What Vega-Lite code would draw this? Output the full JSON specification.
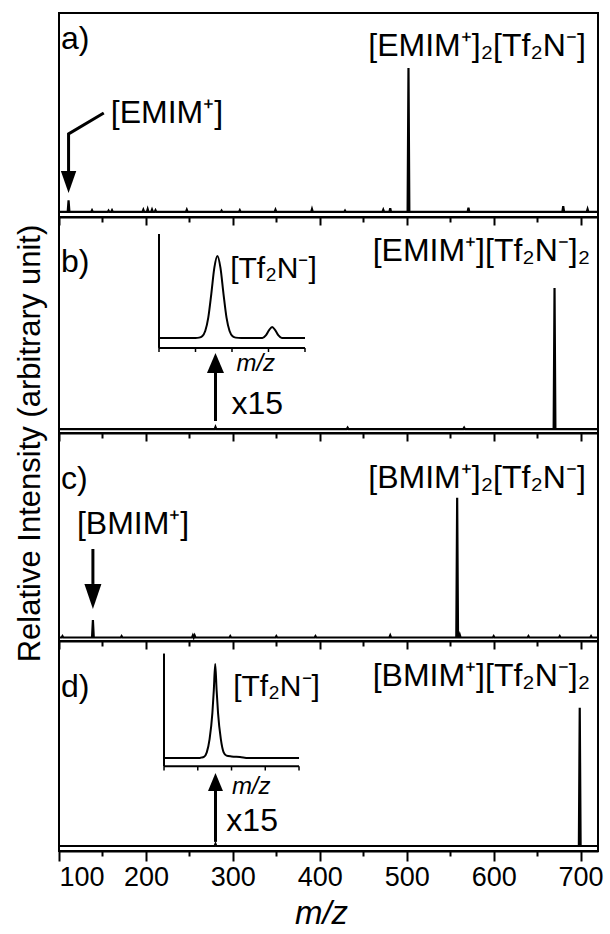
{
  "$schema": "https://vega.github.io/schema/vega-lite/v6.json",
  "padding": {"left": 12, "top": 12, "right": 5, "bottom": 0},
  "background": "white",
  "spacing": 0,
  "bounds": "flush",
  "config": {
    "font": "Liberation Sans",
    "view": {"stroke": "black", "strokeWidth": 2},
    "axis": {
      "grid": false,
      "domainColor": "black",
      "tickColor": "black",
      "labelColor": "black",
      "titleColor": "black",
      "labelFont": "Liberation Sans",
      "titleFont": "Liberation Sans",
      "domainWidth": 2,
      "tickWidth": 2
    },
    "text": {"font": "Liberation Sans", "fontSize": 32, "color": "black"},
    "line": {"color": "black"},
    "rule": {"color": "black"}
  },
  "vconcat": [
    {
      "width": 539,
      "height": 204,
      "resolve": {"scale": {"x": "independent", "y": "independent"}, "axis": {"x": "independent", "y": "independent"}},
      "layer": [
        {
          "data": {"values": [
            {"mz": 100, "i": 0}, {"mz": 110, "i": 0}, {"mz": 111, "i": 8}, {"mz": 112, "i": 0},
            {"mz": 137, "i": 0}, {"mz": 138, "i": 1.2}, {"mz": 139, "i": 0},
            {"mz": 156, "i": 0}, {"mz": 157, "i": 1}, {"mz": 158, "i": 0},
            {"mz": 160, "i": 0}, {"mz": 161, "i": 1.2}, {"mz": 162, "i": 0},
            {"mz": 196, "i": 0}, {"mz": 197, "i": 1.5}, {"mz": 198, "i": 0},
            {"mz": 201, "i": 0}, {"mz": 202, "i": 2}, {"mz": 203, "i": 0},
            {"mz": 206, "i": 0}, {"mz": 207, "i": 1.6}, {"mz": 208, "i": 0},
            {"mz": 210, "i": 0}, {"mz": 211, "i": 1.2}, {"mz": 212, "i": 0},
            {"mz": 246, "i": 0}, {"mz": 247, "i": 1.5}, {"mz": 248, "i": 0},
            {"mz": 286, "i": 0}, {"mz": 287, "i": 1}, {"mz": 288, "i": 0},
            {"mz": 307, "i": 0}, {"mz": 308, "i": 1.2}, {"mz": 309, "i": 0},
            {"mz": 348, "i": 0}, {"mz": 349, "i": 1.5}, {"mz": 350, "i": 0},
            {"mz": 390, "i": 0}, {"mz": 391, "i": 2}, {"mz": 392, "i": 0},
            {"mz": 428, "i": 0}, {"mz": 429, "i": 1}, {"mz": 430, "i": 0},
            {"mz": 472, "i": 0}, {"mz": 473, "i": 1.5}, {"mz": 474, "i": 0},
            {"mz": 480, "i": 0}, {"mz": 481, "i": 2.5}, {"mz": 482, "i": 0},
            {"mz": 501, "i": 0}, {"mz": 502, "i": 100}, {"mz": 503, "i": 0},
            {"mz": 570, "i": 0}, {"mz": 571, "i": 3}, {"mz": 572, "i": 0},
            {"mz": 679, "i": 0}, {"mz": 680, "i": 4}, {"mz": 681, "i": 0},
            {"mz": 707, "i": 0}, {"mz": 708, "i": 2}, {"mz": 709, "i": 0},
            {"mz": 720, "i": 0}
          ]},
          "mark": {"type": "line", "strokeWidth": 2.2},
          "encoding": {
            "x": {"field": "mz", "type": "quantitative", "scale": {"domain": [100, 720], "nice": false},
                  "axis": {"orient": "bottom", "values": [100, 200, 300, 400, 500, 600, 700], "labels": false, "tickSize": 8, "title": null}},
            "y": {"field": "i", "type": "quantitative", "scale": {"domain": [-3.5, 138.2], "nice": false}, "axis": null}
          }
        },
        {
          "data": {"values": [
            {"mz": 151.5, "i": 68.75, "o": 1}, {"mz": 111, "i": 54.2, "o": 2}, {"mz": 111, "i": 28.5, "o": 3}
          ]},
          "mark": {"type": "line", "strokeWidth": 3},
          "encoding": {
            "x": {"field": "mz", "type": "quantitative", "scale": {"domain": [100, 720], "nice": false},
                  "axis": {"orient": "bottom", "values": [150, 250, 350, 450, 550, 650], "labels": false, "tickSize": 5, "domain": false, "title": null}},
            "y": {"field": "i", "type": "quantitative", "scale": {"domain": [-3.5, 138.2], "nice": false}, "axis": null},
            "order": {"field": "o", "type": "quantitative"}
          }
        },
        {
          "data": {"values": [{"mz": 111, "i": 20.8}]},
          "mark": {"type": "point", "shape": "M-0.7,-1L0.7,-1L0,1Z", "size": 484, "filled": true, "color": "black", "opacity": 1, "strokeWidth": 0},
          "encoding": {
            "x": {"field": "mz", "type": "quantitative", "scale": {"domain": [100, 720], "nice": false}, "axis": null},
            "y": {"field": "i", "type": "quantitative", "scale": {"domain": [-3.5, 138.2], "nice": false}, "axis": null}
          }
        },
        {
          "data": {"values": [
            {"mz": 102.3, "i": 113.2, "t": "a)"},
            {"mz": 159.6, "i": 62, "t": "[EMIM⁺]"}
          ]},
          "mark": {"type": "text", "align": "left", "baseline": "alphabetic"},
          "encoding": {
            "x": {"field": "mz", "type": "quantitative", "scale": {"domain": [100, 720], "nice": false}, "axis": null},
            "y": {"field": "i", "type": "quantitative", "scale": {"domain": [-3.5, 138.2], "nice": false}, "axis": null},
            "text": {"field": "t"}
          }
        },
        {
          "data": {"values": [{"mz": 706, "i": 108.3, "t": "[EMIM⁺]₂[Tf₂N⁻]"}]},
          "mark": {"type": "text", "align": "right", "baseline": "alphabetic"},
          "encoding": {
            "x": {"field": "mz", "type": "quantitative", "scale": {"domain": [100, 720], "nice": false}, "axis": null},
            "y": {"field": "i", "type": "quantitative", "scale": {"domain": [-3.5, 138.2], "nice": false}, "axis": null},
            "text": {"field": "t"}
          }
        }
      ]
    },
    {
      "width": 539,
      "height": 216,
      "resolve": {"scale": {"x": "independent", "y": "independent"}, "axis": {"x": "independent", "y": "independent"}},
      "layer": [
        {
          "data": {"values": [
            {"mz": 100, "i": 0}, {"mz": 279, "i": 0}, {"mz": 280, "i": 1.5}, {"mz": 281, "i": 0},
            {"mz": 431, "i": 0}, {"mz": 432, "i": 1}, {"mz": 433, "i": 0},
            {"mz": 565, "i": 0}, {"mz": 566, "i": 1}, {"mz": 567, "i": 0},
            {"mz": 669, "i": 0}, {"mz": 670, "i": 100}, {"mz": 671, "i": 0},
            {"mz": 720, "i": 0}
          ]},
          "mark": {"type": "line", "strokeWidth": 2.2},
          "encoding": {
            "x": {"field": "mz", "type": "quantitative", "scale": {"domain": [100, 720], "nice": false},
                  "axis": {"orient": "bottom", "values": [100, 200, 300, 400, 500, 600, 700], "labels": false, "tickSize": 8, "title": null}},
            "y": {"field": "i", "type": "quantitative", "scale": {"domain": [-2.8, 150.4], "nice": false},
                  "axis": {"orient": "left", "title": "Relative Intensity (arbitrary unit)", "labels": false, "ticks": false, "domain": false,
                           "titleFontSize": 31, "titleFontWeight": "normal", "titleX": -20, "titleY": 226,
                           "titleAngle": -90, "titleAlign": "center", "titleBaseline": "alphabetic"}}
          }
        },
        {
          "data": {"values": [{"mz": 280, "i": 5.7, "i2": 40}]},
          "mark": {"type": "rule", "strokeWidth": 3},
          "encoding": {
            "x": {"field": "mz", "type": "quantitative", "scale": {"domain": [100, 720], "nice": false},
                  "axis": {"orient": "bottom", "values": [150, 250, 350, 450, 550, 650], "labels": false, "tickSize": 5, "domain": false, "title": null}},
            "y": {"field": "i", "type": "quantitative", "scale": {"domain": [-2.8, 150.4], "nice": false}, "axis": null},
            "y2": {"field": "i2"}
          }
        },
        {
          "data": {"values": [{"mz": 280, "i": 46.8}]},
          "mark": {"type": "point", "shape": "M0,-1L0.85,1L-0.85,1Z", "size": 400, "filled": true, "color": "black", "opacity": 1, "strokeWidth": 0},
          "encoding": {
            "x": {"field": "mz", "type": "quantitative", "scale": {"domain": [100, 720], "nice": false}, "axis": null},
            "y": {"field": "i", "type": "quantitative", "scale": {"domain": [-2.8, 150.4], "nice": false}, "axis": null}
          }
        },
        {
          "data": {"values": [
            {"mz": 102.3, "i": 111.3, "t": "b)"},
            {"mz": 298.3, "i": 10.6, "t": "x15"}
          ]},
          "mark": {"type": "text", "align": "left", "baseline": "alphabetic"},
          "encoding": {
            "x": {"field": "mz", "type": "quantitative", "scale": {"domain": [100, 720], "nice": false}, "axis": null},
            "y": {"field": "i", "type": "quantitative", "scale": {"domain": [-2.8, 150.4], "nice": false}, "axis": null},
            "text": {"field": "t"}
          }
        },
        {
          "data": {"values": [{"mz": 711, "i": 119, "t": "[EMIM⁺][Tf₂N⁻]₂"}]},
          "mark": {"type": "text", "align": "right", "baseline": "alphabetic"},
          "encoding": {
            "x": {"field": "mz", "type": "quantitative", "scale": {"domain": [100, 720], "nice": false}, "axis": null},
            "y": {"field": "i", "type": "quantitative", "scale": {"domain": [-2.8, 150.4], "nice": false}, "axis": null},
            "text": {"field": "t"}
          }
        },
        {
          "data": {"values": [
            {"mz": 270, "i": 0}, {"mz": 276, "i": 0}, {"mz": 276.6, "i": 0.4}, {"mz": 277.1, "i": 2.1},
            {"mz": 277.6, "i": 8.5}, {"mz": 278.1, "i": 24.9}, {"mz": 278.6, "i": 53.9}, {"mz": 279.1, "i": 85.7},
            {"mz": 279.6, "i": 100}, {"mz": 280.1, "i": 85.7}, {"mz": 280.6, "i": 53.9}, {"mz": 281.1, "i": 24.9},
            {"mz": 281.6, "i": 8.5}, {"mz": 282.1, "i": 2.1}, {"mz": 282.6, "i": 0.4}, {"mz": 283.5, "i": 0},
            {"mz": 287, "i": 0}, {"mz": 287.6, "i": 3.4}, {"mz": 288.1, "i": 9.5}, {"mz": 288.6, "i": 13.4},
            {"mz": 289.1, "i": 9.5}, {"mz": 289.6, "i": 3.4}, {"mz": 290.2, "i": 0}, {"mz": 294, "i": 0}
          ]},
          "mark": {"type": "line", "strokeWidth": 2, "interpolate": "monotone"},
          "encoding": {
            "x": {"field": "mz", "type": "quantitative", "scale": {"domain": [253.56, 342.17], "nice": false}, "axis": null},
            "y": {"field": "i", "type": "quantitative", "scale": {"domain": [-115.9, 147.5], "nice": false}, "axis": null}
          }
        },
        {
          "data": {"values": [
            {"mz": 270, "mz2": 294, "i": -12.2, "i2": -12.2},
            {"mz": 270, "mz2": 270, "i": -12.2, "i2": 126.8}
          ]},
          "mark": {"type": "rule", "strokeWidth": 2},
          "encoding": {
            "x": {"field": "mz", "type": "quantitative", "scale": {"domain": [253.56, 342.17], "nice": false}, "axis": null},
            "x2": {"field": "mz2"},
            "y": {"field": "i", "type": "quantitative", "scale": {"domain": [-115.9, 147.5], "nice": false}, "axis": null},
            "y2": {"field": "i2"}
          }
        },
        {
          "data": {"values": [
            {"mz": 270, "i": -12.2, "i2": -17.1}, {"mz": 276, "i": -12.2, "i2": -17.1},
            {"mz": 282, "i": -12.2, "i2": -17.1}, {"mz": 288, "i": -12.2, "i2": -17.1},
            {"mz": 294, "i": -12.2, "i2": -17.1}
          ]},
          "mark": {"type": "rule", "strokeWidth": 1.5},
          "encoding": {
            "x": {"field": "mz", "type": "quantitative", "scale": {"domain": [253.56, 342.17], "nice": false}, "axis": null},
            "y": {"field": "i", "type": "quantitative", "scale": {"domain": [-115.9, 147.5], "nice": false}, "axis": null},
            "y2": {"field": "i2"}
          }
        },
        {
          "data": {"values": [{"mz": 285.9, "i": -40.3, "t": "m/z"}]},
          "mark": {"type": "text", "align": "center", "baseline": "alphabetic", "fontSize": 24, "fontStyle": "italic"},
          "encoding": {
            "x": {"field": "mz", "type": "quantitative", "scale": {"domain": [253.56, 342.17], "nice": false}, "axis": null},
            "y": {"field": "i", "type": "quantitative", "scale": {"domain": [-115.9, 147.5], "nice": false}, "axis": null},
            "text": {"field": "t"}
          }
        },
        {
          "data": {"values": [{"mz": 281.7, "i": 73, "t": "[Tf₂N⁻]"}]},
          "mark": {"type": "text", "align": "left", "baseline": "alphabetic", "fontSize": 30},
          "encoding": {
            "x": {"field": "mz", "type": "quantitative", "scale": {"domain": [253.56, 342.17], "nice": false}, "axis": null},
            "y": {"field": "i", "type": "quantitative", "scale": {"domain": [-115.9, 147.5], "nice": false}, "axis": null},
            "text": {"field": "t"}
          }
        }
      ]
    },
    {
      "width": 539,
      "height": 208,
      "resolve": {"scale": {"x": "independent", "y": "independent"}, "axis": {"x": "independent", "y": "independent"}},
      "layer": [
        {
          "data": {"values": [
            {"mz": 100, "i": 0}, {"mz": 103, "i": 0}, {"mz": 104, "i": 1}, {"mz": 105, "i": 0},
            {"mz": 138, "i": 0}, {"mz": 139, "i": 12.5}, {"mz": 140, "i": 0},
            {"mz": 171, "i": 0}, {"mz": 172, "i": 1}, {"mz": 173, "i": 0},
            {"mz": 253, "i": 0}, {"mz": 254, "i": 1.5}, {"mz": 255, "i": 0}, {"mz": 256, "i": 1.5}, {"mz": 257, "i": 0},
            {"mz": 296, "i": 0}, {"mz": 297, "i": 1}, {"mz": 298, "i": 0},
            {"mz": 349, "i": 0}, {"mz": 350, "i": 1}, {"mz": 351, "i": 0},
            {"mz": 394, "i": 0}, {"mz": 395, "i": 1}, {"mz": 396, "i": 0},
            {"mz": 480, "i": 0}, {"mz": 481, "i": 1.5}, {"mz": 482, "i": 0},
            {"mz": 557, "i": 0}, {"mz": 558, "i": 100}, {"mz": 559, "i": 0},
            {"mz": 560, "i": 0}, {"mz": 561, "i": 2}, {"mz": 562, "i": 0},
            {"mz": 599, "i": 0}, {"mz": 600, "i": 1}, {"mz": 601, "i": 0},
            {"mz": 639, "i": 0}, {"mz": 640, "i": 1}, {"mz": 641, "i": 0},
            {"mz": 675, "i": 0}, {"mz": 676, "i": 1}, {"mz": 677, "i": 0},
            {"mz": 711, "i": 0}, {"mz": 712, "i": 1}, {"mz": 713, "i": 0},
            {"mz": 720, "i": 0}
          ]},
          "mark": {"type": "line", "strokeWidth": 2.2},
          "encoding": {
            "x": {"field": "mz", "type": "quantitative", "scale": {"domain": [100, 720], "nice": false},
                  "axis": {"orient": "bottom", "values": [100, 200, 300, 400, 500, 600, 700], "labels": false, "tickSize": 8, "title": null}},
            "y": {"field": "i", "type": "quantitative", "scale": {"domain": [-2.5, 146.3], "nice": false}, "axis": null}
          }
        },
        {
          "data": {"values": [{"mz": 139, "i": 38.3, "i2": 63.3}]},
          "mark": {"type": "rule", "strokeWidth": 3},
          "encoding": {
            "x": {"field": "mz", "type": "quantitative", "scale": {"domain": [100, 720], "nice": false},
                  "axis": {"orient": "bottom", "values": [150, 250, 350, 450, 550, 650], "labels": false, "tickSize": 5, "domain": false, "title": null}},
            "y": {"field": "i", "type": "quantitative", "scale": {"domain": [-2.5, 146.3], "nice": false}, "axis": null},
            "y2": {"field": "i2"}
          }
        },
        {
          "data": {"values": [{"mz": 139, "i": 29.3}]},
          "mark": {"type": "point", "shape": "M-0.68,-1L0.68,-1L0,1Z", "size": 625, "filled": true, "color": "black", "opacity": 1, "strokeWidth": 0},
          "encoding": {
            "x": {"field": "mz", "type": "quantitative", "scale": {"domain": [100, 720], "nice": false}, "axis": null},
            "y": {"field": "i", "type": "quantitative", "scale": {"domain": [-2.5, 146.3], "nice": false}, "axis": null}
          }
        },
        {
          "data": {"values": [
            {"mz": 102.3, "i": 106.2, "t": "c)"},
            {"mz": 120.6, "i": 74, "t": "[BMIM⁺]"}
          ]},
          "mark": {"type": "text", "align": "left", "baseline": "alphabetic"},
          "encoding": {
            "x": {"field": "mz", "type": "quantitative", "scale": {"domain": [100, 720], "nice": false}, "axis": null},
            "y": {"field": "i", "type": "quantitative", "scale": {"domain": [-2.5, 146.3], "nice": false}, "axis": null},
            "text": {"field": "t"}
          }
        },
        {
          "data": {"values": [{"mz": 706, "i": 107, "t": "[BMIM⁺]₂[Tf₂N⁻]"}]},
          "mark": {"type": "text", "align": "right", "baseline": "alphabetic"},
          "encoding": {
            "x": {"field": "mz", "type": "quantitative", "scale": {"domain": [100, 720], "nice": false}, "axis": null},
            "y": {"field": "i", "type": "quantitative", "scale": {"domain": [-2.5, 146.3], "nice": false}, "axis": null},
            "text": {"field": "t"}
          }
        }
      ]
    },
    {
      "width": 539,
      "height": 210,
      "resolve": {"scale": {"x": "independent", "y": "independent"}, "axis": {"x": "independent", "y": "independent"}},
      "layer": [
        {
          "data": {"values": [
            {"mz": 100, "i": 0}, {"mz": 279, "i": 0}, {"mz": 280, "i": 1.5}, {"mz": 281, "i": 0},
            {"mz": 698, "i": 0}, {"mz": 699, "i": 100}, {"mz": 700, "i": 0}, {"mz": 720, "i": 0}
          ]},
          "mark": {"type": "line", "strokeWidth": 2.2},
          "encoding": {
            "x": {"field": "mz", "type": "quantitative", "scale": {"domain": [100, 720], "nice": false},
                  "axis": {"orient": "bottom", "values": [100, 200, 300, 400, 500, 600, 700], "tickSize": 10, "labelFontSize": 27, "labelPadding": 3,
                           "title": "m/z", "titleFontStyle": "italic", "titleFontWeight": "normal", "titleFontSize": 33, "titlePadding": 7, "titleX": 262}},
            "y": {"field": "i", "type": "quantitative", "scale": {"domain": [-3.6, 148.2], "nice": false}, "axis": null}
          }
        },
        {
          "data": {"values": [{"mz": 280, "i": 3, "i2": 39.8}]},
          "mark": {"type": "rule", "strokeWidth": 3},
          "encoding": {
            "x": {"field": "mz", "type": "quantitative", "scale": {"domain": [100, 720], "nice": false},
                  "axis": {"orient": "bottom", "values": [150, 250, 350, 450, 550, 650], "labels": false, "tickSize": 5, "domain": false, "title": null}},
            "y": {"field": "i", "type": "quantitative", "scale": {"domain": [-3.6, 148.2], "nice": false}, "axis": null},
            "y2": {"field": "i2"}
          }
        },
        {
          "data": {"values": [{"mz": 280, "i": 46.3}]},
          "mark": {"type": "point", "shape": "M0,-1L0.83,1L-0.83,1Z", "size": 324, "filled": true, "color": "black", "opacity": 1, "strokeWidth": 0},
          "encoding": {
            "x": {"field": "mz", "type": "quantitative", "scale": {"domain": [100, 720], "nice": false}, "axis": null},
            "y": {"field": "i", "type": "quantitative", "scale": {"domain": [-3.6, 148.2], "nice": false}, "axis": null}
          }
        },
        {
          "data": {"values": [
            {"mz": 102.3, "i": 107.7, "t": "d)"},
            {"mz": 292.5, "i": 10.8, "t": "x15"}
          ]},
          "mark": {"type": "text", "align": "left", "baseline": "alphabetic"},
          "encoding": {
            "x": {"field": "mz", "type": "quantitative", "scale": {"domain": [100, 720], "nice": false}, "axis": null},
            "y": {"field": "i", "type": "quantitative", "scale": {"domain": [-3.6, 148.2], "nice": false}, "axis": null},
            "text": {"field": "t"}
          }
        },
        {
          "data": {"values": [{"mz": 711, "i": 115.7, "t": "[BMIM⁺][Tf₂N⁻]₂"}]},
          "mark": {"type": "text", "align": "right", "baseline": "alphabetic"},
          "encoding": {
            "x": {"field": "mz", "type": "quantitative", "scale": {"domain": [100, 720], "nice": false}, "axis": null},
            "y": {"field": "i", "type": "quantitative", "scale": {"domain": [-3.6, 148.2], "nice": false}, "axis": null},
            "text": {"field": "t"}
          }
        },
        {
          "data": {"values": [
            {"mz": 270, "i": 0}, {"mz": 276.2, "i": 0}, {"mz": 276.6, "i": 0.4}, {"mz": 277.1, "i": 1.2},
            {"mz": 277.6, "i": 6}, {"mz": 278.1, "i": 20}, {"mz": 278.6, "i": 48}, {"mz": 278.85, "i": 72},
            {"mz": 279.1, "i": 100}, {"mz": 279.35, "i": 72}, {"mz": 279.6, "i": 48}, {"mz": 280.1, "i": 20},
            {"mz": 280.6, "i": 6}, {"mz": 281.1, "i": 2.5}, {"mz": 282, "i": 1.6}, {"mz": 283.5, "i": 1},
            {"mz": 285, "i": 0}, {"mz": 294, "i": 0}
          ]},
          "mark": {"type": "line", "strokeWidth": 2, "interpolate": "monotone"},
          "encoding": {
            "x": {"field": "mz", "type": "quantitative", "scale": {"domain": [251.33, 347.15], "nice": false}, "axis": null},
            "y": {"field": "i", "type": "quantitative", "scale": {"domain": [-98.9, 124.43], "nice": false}, "axis": null}
          }
        },
        {
          "data": {"values": [
            {"mz": 270, "mz2": 294, "i": -8.9, "i2": -8.9},
            {"mz": 270, "mz2": 270, "i": -8.9, "i2": 111.1}
          ]},
          "mark": {"type": "rule", "strokeWidth": 2},
          "encoding": {
            "x": {"field": "mz", "type": "quantitative", "scale": {"domain": [251.33, 347.15], "nice": false}, "axis": null},
            "x2": {"field": "mz2"},
            "y": {"field": "i", "type": "quantitative", "scale": {"domain": [-98.9, 124.43], "nice": false}, "axis": null},
            "y2": {"field": "i2"}
          }
        },
        {
          "data": {"values": [
            {"mz": 270, "i": -8.9, "i2": -13.3}, {"mz": 276, "i": -8.9, "i2": -13.3},
            {"mz": 282, "i": -8.9, "i2": -13.3}, {"mz": 288, "i": -8.9, "i2": -13.3},
            {"mz": 294, "i": -8.9, "i2": -13.3}
          ]},
          "mark": {"type": "rule", "strokeWidth": 1.5},
          "encoding": {
            "x": {"field": "mz", "type": "quantitative", "scale": {"domain": [251.33, 347.15], "nice": false}, "axis": null},
            "y": {"field": "i", "type": "quantitative", "scale": {"domain": [-98.9, 124.43], "nice": false}, "axis": null},
            "y2": {"field": "i2"}
          }
        },
        {
          "data": {"values": [{"mz": 285.5, "i": -37.8, "t": "m/z"}]},
          "mark": {"type": "text", "align": "center", "baseline": "alphabetic", "fontSize": 24, "fontStyle": "italic"},
          "encoding": {
            "x": {"field": "mz", "type": "quantitative", "scale": {"domain": [251.33, 347.15], "nice": false}, "axis": null},
            "y": {"field": "i", "type": "quantitative", "scale": {"domain": [-98.9, 124.43], "nice": false}, "axis": null},
            "text": {"field": "t"}
          }
        },
        {
          "data": {"values": [{"mz": 282.3, "i": 65.6, "t": "[Tf₂N⁻]"}]},
          "mark": {"type": "text", "align": "left", "baseline": "alphabetic", "fontSize": 30},
          "encoding": {
            "x": {"field": "mz", "type": "quantitative", "scale": {"domain": [251.33, 347.15], "nice": false}, "axis": null},
            "y": {"field": "i", "type": "quantitative", "scale": {"domain": [-98.9, 124.43], "nice": false}, "axis": null},
            "text": {"field": "t"}
          }
        }
      ]
    }
  ]
}
